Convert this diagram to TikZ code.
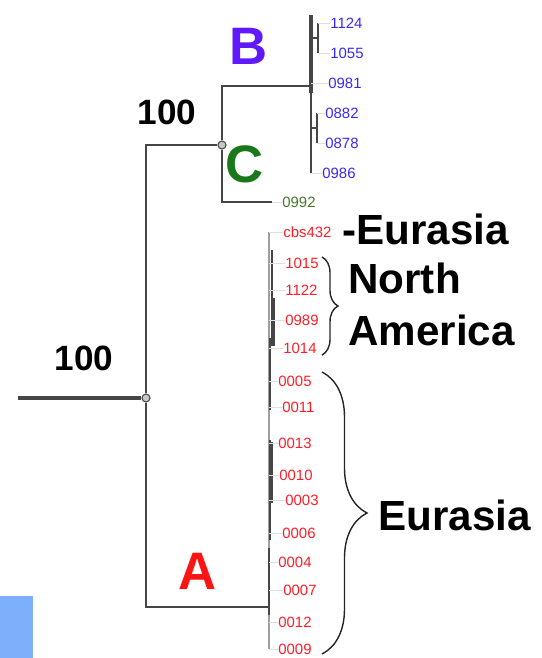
\documentclass[tikz,border=0pt]{standalone}
\usepackage{fontspec}
\setmainfont{Liberation Sans}
\usetikzlibrary{decorations.pathreplacing}

\definecolor{cladeA}{RGB}{250,20,20}
\definecolor{cladeB}{RGB}{95,25,250}
\definecolor{cladeC}{RGB}{25,120,25}
\definecolor{leafA}{RGB}{255,30,40}
\definecolor{leafB}{RGB}{55,40,250}
\definecolor{leafC}{RGB}{70,120,40}
\definecolor{branch}{RGB}{70,70,70}
\definecolor{tab}{RGB}{125,175,250}

\begin{document}
\begin{tikzpicture}[x=0.02cm,y=-0.02cm,
    branch/.style={draw=branch,line width=0.9pt},
    stub/.style={draw=gray!25,line width=0.4pt},
    inner node/.style={circle,draw=branch,fill=gray!45,line width=0.6pt,inner sep=0pt,minimum size=4.6pt},
    leaf/.style={anchor=west,inner sep=0pt,font=\fontsize{8.5}{9}\selectfont},
    clade/.style={font=\fontsize{30}{32}\selectfont\bfseries},
    support/.style={font=\fontsize{20}{22}\selectfont\bfseries},
    region/.style={anchor=west,inner sep=0pt,align=left,font=\fontsize{24}{29.6}\selectfont\bfseries},
    region brace/.style={decorate,draw=black!85,line width=0.8pt}]
  \useasboundingbox (0,0) rectangle (541,658);
  % corner of a window tab
  \fill[tab] (0,596) rectangle (33,658);

  % backbone
  \coordinate (root) at (18,398);
  \node[inner node] (n1) at (146,398) {};
  \node[inner node] (n2) at (222,145) {};
  \coordinate (aJ) at (269,607);
  \coordinate (bJ) at (311,86);
  \coordinate (cJ) at (272,202);

  \draw[branch,line width=1.8pt] (root) -- (n1);
  \draw[branch] (n1) |- (n2);
  \draw[branch] (n1) |- (aJ);
  \draw[branch] (n2) |- (bJ);
  \draw[branch] (n2) |- (cJ);

  % clade B
  \foreach \nm/\x/\y in {1124/330/23,1055/330/53,0981/328/83,0882/325/113,0878/325/143,0986/322/173}
    \node[leaf,text=leafB] (l\nm) at (\x,\y) {\nm};
  \coordinate (bTop) at (311,15);
  \coordinate (bBot) at (311,173);
  \coordinate (b1) at (318,38);
  \coordinate (b2) at (317,128);
  \draw[branch,line width=2pt] (bTop) -- ([yshift=-4]bJ);
  \draw[branch] (bJ) -- (bBot);
  \draw[branch] (bJ |- b1) -- (b1);
  \draw[branch] (b1 |- l1124.west) -- (b1 |- l1055.west);
  \draw[branch] (bJ |- b2) -- (b2);
  \draw[branch] (b2 |- l0882.west) -- (b2 |- l0878.west);
  \foreach \nm in {1124,1055}
    \draw[stub] (b1 |- l\nm.west) -- (l\nm.west);
  \foreach \nm in {0882,0878}
    \draw[stub] (b2 |- l\nm.west) -- (l\nm.west);
  \foreach \nm in {0981,0986}
    \draw[stub] (bJ |- l\nm.west) -- (l\nm.west);

  % clade C
  \node[leaf,text=leafC] (l0992) at (282,202) {0992};
  \draw[stub] (cJ) -- (l0992.west);

  % clade A
  \foreach \nm/\x/\y in {cbs432/283/232,1015/285/263,1122/285/290,0989/285/320,1014/283/348,
      0005/278/381,0011/282/407,0013/278/443,0010/279/475,0003/285/500,0006/282/533,
      0004/278/562,0007/283/590,0012/278/622,0009/278/649}
    \node[leaf,text=leafA] (l\nm) at (\x,\y) {\nm};
  \draw[branch,draw=gray!75,line width=1.3pt] (aJ |- lcbs432.west) -- (aJ |- l0009.west);
  \foreach \x/\t/\b/\w in {272/250/300/0.8pt,273/298/346/2.2pt,270/338/410/1.2pt,
      271/442/503/2.4pt,270/440/540/0.8pt,269/548/615/1.4pt}
    \draw[branch,line width=\w] (\x,\t) -- (\x,\b);
  \foreach \nm in {cbs432,1015,1122,0989,1014,0005,0011,0013,0010,0003,0006,0004,0007,0012,0009}
    \draw[stub] (aJ |- l\nm.west) -- (l\nm.west);

  % clade letters and support values
  \node[clade,text=cladeB] (labB) at (249,46) {B};
  \node[clade,text=cladeC] (labC) at (245,164) {C};
  \node[clade,text=cladeA] (labA) at (198,571) {A};
  \node[support] (sup2) at (167,112) {100};
  \node[support] (sup1) at (84,358) {100};

  % regions
  \node[region] (eurTop) at (342,229) {-Eurasia};
  \node[region] (northAm) at (348,304) {North\\America};
  \node[region] (eurBot) at (378,515) {Eurasia};
  \coordinate (naTop) at (322,257);
  \coordinate (naBot) at (322,355);
  \draw[region brace,decoration={brace,amplitude=0.32cm}] (naTop) -- (naBot);
  \coordinate (euTop) at (322,372);
  \coordinate (euBot) at (322,654);
  \draw[region brace,decoration={brace,amplitude=0.9cm}] (euTop) -- (euBot);
\end{tikzpicture}
\end{document}
